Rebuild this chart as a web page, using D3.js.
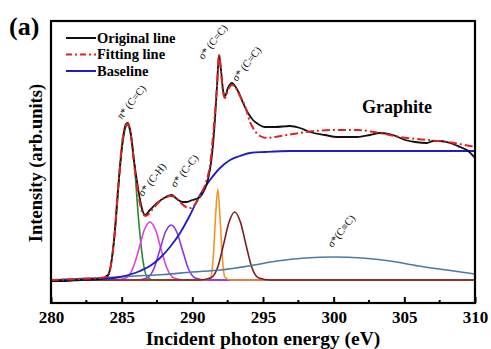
<!DOCTYPE html>
<html>
<head>
<meta charset="utf-8">
<script src="https://cdn.jsdelivr.net/npm/d3@7"></script>
<style>
  html, body { margin: 0; padding: 0; background: #fff; }
  svg { display: block; font-family: "Liberation Serif", "Times New Roman", serif; }
</style>
</head>
<body>
<svg id="chart" width="491" height="349"></svg>
<script>
// values: [photon energy (eV), intensity (arb.)]
const originalLine = [
  [280, -0.01], [281, -0.01], [282.05, 0], [283.47, 0.01], [284.03, 0.05], [284.46, 0.4],
  [284.74, 0.9], [285.03, 1.35], [285.31, 1.56], [285.45, 1.57], [285.66, 1.45], [285.87, 1.2],
  [286.09, 0.98], [286.3, 0.8], [286.51, 0.68], [286.65, 0.65], [287.0, 0.7], [287.5, 0.77],
  [288.0, 0.82], [288.55, 0.85], [288.9, 0.81], [289.3, 0.78], [289.62, 0.78], [290.0, 0.8],
  [290.54, 0.83], [290.85, 0.9], [291.1, 1.0], [291.35, 1.2], [291.6, 1.6], [291.75, 1.95],
  [291.89, 2.25], [292.03, 2.1], [292.17, 1.9], [292.31, 1.84], [292.52, 1.92], [292.81, 1.97],
  [293.02, 1.94], [293.3, 1.87], [293.59, 1.77], [293.94, 1.67], [294.29, 1.6], [294.65, 1.56],
  [295.14, 1.53], [295.85, 1.53], [296.91, 1.54], [297.62, 1.52], [298.33, 1.48], [299.39, 1.45],
  [300.24, 1.43], [301.65, 1.43], [302.57, 1.45], [303.28, 1.47], [304.2, 1.45], [305.05, 1.4],
  [305.76, 1.38], [306.6, 1.37], [307.03, 1.39], [307.52, 1.39], [308.23, 1.37], [308.94, 1.33],
  [309.43, 1.3], [310, 1.22]
];

const fittingLine = [
  [280, 0], [282, 0.01], [283.5, 0.02], [284.03, 0.04], [284.46, 0.4], [284.74, 0.9],
  [285.03, 1.37], [285.31, 1.55], [285.45, 1.56], [285.66, 1.44], [285.87, 1.17], [286.09, 0.93],
  [286.3, 0.76], [286.51, 0.66], [286.7, 0.64], [287.15, 0.7], [287.5, 0.76], [287.92, 0.81],
  [288.42, 0.84], [288.77, 0.83], [289.13, 0.78], [289.55, 0.73], [289.91, 0.72], [290.26, 0.77],
  [290.61, 0.86], [290.97, 0.98], [291.25, 1.15], [291.53, 1.55], [291.75, 1.95], [291.89, 2.25],
  [292.03, 2.08], [292.17, 1.88], [292.31, 1.82], [292.52, 1.9], [292.81, 1.95], [293.09, 1.92],
  [293.37, 1.84], [293.73, 1.74], [294.08, 1.58], [294.43, 1.49], [294.79, 1.44], [295.28, 1.42],
  [295.85, 1.43], [296.7, 1.45], [297.62, 1.47], [298.68, 1.49], [299.95, 1.5], [301.65, 1.5],
  [303.28, 1.47], [304.69, 1.43], [306.6, 1.4], [308.02, 1.38], [310, 1.33]
];

const baseLine = [
  [280, 0], [283.47, 0.01], [284.88, 0.03], [286.3, 0.09], [287, 0.14], [287.71, 0.22],
  [288.42, 0.33], [289.13, 0.47], [289.84, 0.65], [290.54, 0.85], [291.25, 1.0], [291.96, 1.12],
  [292.67, 1.2], [293.37, 1.24], [294.08, 1.27], [295.14, 1.28], [296.9, 1.29], [310, 1.29]
];

const peakPiCC = [
  [280, 0], [283.5, 0], [284, 0.03], [284.3, 0.2], [284.6, 0.6], [284.9, 1.15], [285.2, 1.48],
  [285.4, 1.55], [285.6, 1.48], [285.9, 1.15], [286.2, 0.6], [286.5, 0.2], [286.8, 0.03],
  [287.3, 0], [310, 0]
];
const peakCH = [
  [280, 0], [284.5, 0], [285.3, 0.02], [285.8, 0.12], [286.2, 0.3], [286.6, 0.5], [287, 0.58],
  [287.4, 0.5], [287.8, 0.3], [288.2, 0.12], [288.7, 0.02], [289.5, 0], [310, 0]
];
const peakCC = [
  [280, 0], [286, 0], [286.8, 0.02], [287.3, 0.12], [287.7, 0.3], [288.1, 0.48], [288.5, 0.55],
  [288.9, 0.48], [289.3, 0.3], [289.7, 0.12], [290.2, 0.02], [291, 0], [310, 0]
];
const peakSigma1 = [
  [280, 0], [290.9, 0], [291.3, 0.03], [291.5, 0.27], [291.65, 0.65], [291.8, 0.91],
  [291.95, 0.65], [292.1, 0.27], [292.3, 0.03], [292.7, 0], [310, 0]
];
const peakSigma2 = [
  [280, 0], [290.5, 0], [291.3, 0.02], [291.8, 0.13], [292.2, 0.35], [292.6, 0.58], [293, 0.68],
  [293.4, 0.58], [293.8, 0.35], [294.2, 0.13], [294.7, 0.02], [295.5, 0], [310, 0]
];
const peakTriple = [
  [280, 0], [282, 0.015], [284, 0.025], [286, 0.04], [288, 0.055], [290, 0.08], [292, 0.1],
  [294, 0.14], [296, 0.19], [298, 0.22], [300, 0.23], [302, 0.22], [304, 0.19], [306, 0.14],
  [308, 0.1], [310, 0.06]
];

const xTicks = [280, 285, 290, 295, 300, 305, 310];
const xMinorTicks = [282.5, 287.5, 292.5, 297.5, 302.5, 307.5];

const legendItems = ['Original line', 'Fitting line', 'Baseline'];

// annotation labels: text, anchor energy, anchor intensity
const peakLabels = [
  ['π* (C=C)', 285.0, 1.6],
  ['σ* (C-H)', 286.5, 0.83],
  ['σ* (C-C)', 288.8, 0.92],
  ['σ* (C=C)', 290.75, 2.2],
  ['σ* (C=C)', 293.15, 1.98],
  ['σ*(C≡C)', 299.9, 0.32]
];

const svg = d3.select('#chart');
const margin = { left: 51, right: 16, top: 21, bottom: 46 };
const W = 491, H = 349;

const x = d3.scaleLinear().domain([280, 310]).range([margin.left, W - margin.right]);
const y = d3.scaleLinear().domain([-0.23, 2.59]).range([H - margin.bottom, margin.top]);

const line = d3.line()
  .x(d => x(d[0]))
  .y(d => y(d[1]))
  .curve(d3.curveMonotoneX);

const plot = svg.append('g');

// fit components, drawn first so the data sits on top
const components = [
  [peakPiCC, '#2a8a2a'],
  [peakCH, '#de3fde'],
  [peakCC, '#8e35dc'],
  [peakSigma1, '#f39425'],
  [peakSigma2, '#7e1c1c'],
  [peakTriple, '#4c7aa6']
];
components.forEach(([data, col]) => {
  plot.append('path')
    .datum(data)
    .attr('d', line)
    .attr('fill', 'none')
    .attr('stroke', col)
    .attr('stroke-width', 1.6);
});

plot.append('path')
  .datum(baseLine)
  .attr('d', line)
  .attr('fill', 'none')
  .attr('stroke', '#1c1ccc')
  .attr('stroke-width', 1.8);

plot.append('path')
  .datum(originalLine)
  .attr('d', line)
  .attr('fill', 'none')
  .attr('stroke', '#111')
  .attr('stroke-width', 1.8);

plot.append('path')
  .datum(fittingLine)
  .attr('d', line)
  .attr('fill', 'none')
  .attr('stroke', '#e02222')
  .attr('stroke-width', 2)
  .attr('stroke-dasharray', '8,3,2,3');

// frame
svg.append('rect')
  .attr('x', margin.left)
  .attr('y', margin.top)
  .attr('width', W - margin.left - margin.right)
  .attr('height', H - margin.top - margin.bottom)
  .attr('fill', 'none')
  .attr('stroke', '#000')
  .attr('stroke-width', 2.2);

// x axis with inward ticks
const xAxis = svg.append('g')
  .attr('transform', `translate(0,${H - margin.bottom})`)
  .call(d3.axisBottom(x).tickValues(xTicks).tickSize(-6).tickPadding(8).tickFormat(d3.format('d')));
xAxis.select('.domain').remove();
xAxis.selectAll('.tick line').attr('stroke', '#000').attr('stroke-width', 2);
xAxis.selectAll('.tick text')
  .attr('font-family', '"Liberation Serif", serif')
  .attr('font-size', 17)
  .attr('font-weight', 'bold')
  .attr('fill', '#000');

svg.append('g')
  .selectAll('line')
  .data(xMinorTicks)
  .join('line')
  .attr('x1', d => x(d)).attr('x2', d => x(d))
  .attr('y1', H - margin.bottom).attr('y2', H - margin.bottom - 3)
  .attr('stroke', '#000')
  .attr('stroke-width', 2);

// titles
svg.append('text')
  .attr('x', 263).attr('y', 345)
  .attr('text-anchor', 'middle')
  .attr('font-size', 19.5).attr('font-weight', 'bold')
  .text('Incident photon energy (eV)');

svg.append('text')
  .attr('transform', 'translate(42,163) rotate(-90)')
  .attr('text-anchor', 'middle')
  .attr('font-size', 18.5).attr('font-weight', 'bold')
  .text('Intensity (arb.units)');

svg.append('text')
  .attr('x', 9).attr('y', 35)
  .attr('font-size', 26).attr('font-weight', 'bold')
  .text('(a)');

svg.append('text')
  .attr('x', 362).attr('y', 113)
  .attr('font-size', 18).attr('font-weight', 'bold')
  .text('Graphite');

// legend
const legendStyles = [
  { stroke: '#111', dash: null },
  { stroke: '#e02222', dash: '6,3,2,3' },
  { stroke: '#1c1ccc', dash: null }
];
const legend = svg.append('g');
legendItems.forEach((name, i) => {
  const ly = 38 + i * 16.5;
  legend.append('line')
    .attr('x1', 66).attr('x2', 96)
    .attr('y1', ly).attr('y2', ly)
    .attr('stroke', legendStyles[i].stroke)
    .attr('stroke-width', 2)
    .attr('stroke-dasharray', legendStyles[i].dash);
  legend.append('text')
    .attr('x', 97).attr('y', ly + 4.5)
    .attr('font-size', 14.5).attr('font-weight', 'bold')
    .text(name);
});

// rotated peak labels
svg.append('g')
  .selectAll('text')
  .data(peakLabels)
  .join('text')
  .attr('transform', d => `translate(${x(d[1])},${y(d[2])}) rotate(-52)`)
  .attr('font-size', 10.5)
  .text(d => d[0]);
</script>
</body>
</html>
